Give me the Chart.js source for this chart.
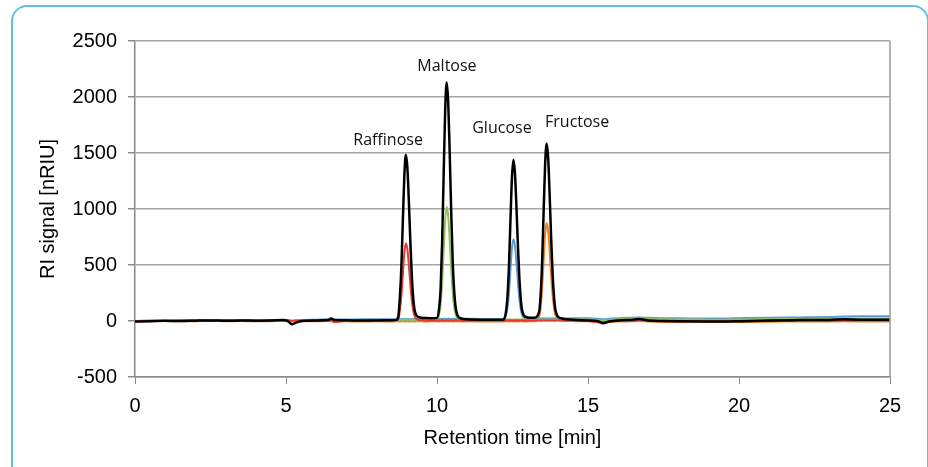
<!DOCTYPE html>
<html>
<head>
<meta charset="utf-8">
<script src="https://cdn.jsdelivr.net/npm/chart.js@4.4.1/dist/chart.umd.min.js"></script>
<style>
  body { margin: 0; background: #fff; }
  #wrap { position: relative; width: 928px; height: 467px; overflow: hidden; }
  #frame {
    position: absolute; left: 11px; top: 5px; width: 918px; height: 480px;
    border: 2px solid #62bfe2; border-radius: 16px; box-sizing: border-box;
    pointer-events: none;
  }
</style>
</head>
<body>
<div id="wrap">
  <canvas id="chromatogram" width="928" height="467"></canvas>
  <div id="frame"></div>
</div>
<script>
// retention times (min), shared by all traces
var times = [
  0, 0.5, 1, 1.5, 2, 2.5, 3, 3.5, 4, 4.5, 4.9, 5.05, 5.2, 5.35, 5.6, 6, 6.4, 6.5, 6.6, 7, 7.5, 8, 8.5, 8.65,
  8.72, 8.77, 8.82, 8.87, 8.92, 8.97, 9.02, 9.07, 9.12, 9.17, 9.24, 9.32, 9.45, 9.6, 9.8,
  10.0, 10.07, 10.12, 10.17, 10.22, 10.27, 10.32, 10.37, 10.42, 10.47, 10.52, 10.59, 10.67, 10.8, 11.0, 11.5,
  12.2, 12.28, 12.33, 12.38, 12.43, 12.48, 12.53, 12.58, 12.63, 12.68, 12.73, 12.8, 12.88, 13.0, 13.2,
  13.38, 13.43, 13.48, 13.53, 13.58, 13.63, 13.68, 13.73, 13.78, 13.83, 13.9, 13.98, 14.1, 14.3, 14.6,
  15, 15.3, 15.5, 15.7, 16, 16.5, 16.7, 17, 17.5, 18, 19, 19.5, 20, 21, 22, 23, 23.5, 24, 25
];

// mixture (black)
var mix = [
  -5, -2, 2, 0, 3, 5, 2, 4, 3, 5, 8, 2, -30, -12, 2, 5, 8, 22, 8, 6, 5, 5, 6, 10,
  45, 210, 480, 905, 1305, 1485, 1365, 1055, 690, 380, 130, 50, 32, 26, 25,
  28, 115, 290, 700, 1300, 1875, 2130, 1960, 1510, 980, 535, 190, 55, 22, 15, 12,
  12, 75, 205, 470, 880, 1270, 1440, 1325, 1025, 670, 370, 125, 50, 32, 28,
  80, 225, 520, 970, 1395, 1585, 1460, 1130, 740, 410, 140, 50, 25, 15, 10,
  5, 0, -18, -5, 5, 12, 18, 5, 0, -3, -5, -5, -2, 5, 8, 10, 15, 12, 12
];

var raffinose = [
  0, 2, 0, 3, 5, 2, 5, 3, 2, 5, 6, 5, 2, 5, 3, 5, 4, 6, -8, 2, 3, 5, 4, 6,
  18, 95, 225, 425, 612, 695, 640, 495, 320, 175, 60, 18, 8, 5, 5,
  5, 4, 5, 6, 5, 4, 5, 6, 5, 4, 5, 6, 5, 4, 3, 5,
  5, 4, 5, 6, 5, 4, 5, 6, 5, 4, 5, 6, 5, 4, 5,
  5, 4, 5, 6, 5, 4, 5, 6, 5, 4, 5, 6, 5, 4, 5,
  0, -10, -22, -5, 5, 5, 8, 2, 0, -3, -5, -5, -3, 0, 3, 5, 5, 6, 5
];

var maltose = [
  0, 3, 2, 4, 3, 5, 4, 6, 5, 6, 8, 5, 0, 3, 6, 8, 10, 18, 10, 8, 8, 9, 10, 10,
  10, 10, 11, 10, 12, 10, 11, 12, 10, 11, 12, 10, 11, 12, 14,
  15, 55, 145, 335, 625, 900, 1020, 940, 725, 470, 260, 90, 30, 18, 14, 12,
  12, 12, 13, 12, 14, 12, 13, 12, 14, 13, 12, 14, 13, 12, 14,
  12, 13, 14, 12, 13, 14, 12, 13, 14, 12, 13, 14, 12, 13, 14,
  14, 10, 5, 10, 15, 25, 28, 18, 15, 14, 12, 12, 14, 16, 18, 20, 22, 22, 22
];

var glucose = [
  0, 2, 3, 4, 5, 6, 5, 7, 6, 8, 10, 8, 0, 5, 10, 12, 14, 15, 14, 14, 15, 15, 16, 16,
  16, 17, 16, 18, 17, 16, 18, 17, 16, 18, 17, 18, 17, 18, 18,
  18, 18, 19, 18, 20, 19, 18, 20, 19, 18, 20, 19, 18, 20, 19, 18,
  18, 45, 110, 240, 450, 645, 730, 675, 525, 345, 190, 70, 30, 22, 22,
  22, 23, 22, 24, 23, 22, 24, 23, 22, 24, 23, 22, 24, 23, 24,
  24, 20, 15, 20, 25, 30, 32, 28, 25, 24, 22, 22, 25, 30, 32, 35, 40, 42, 42
];

var fructose = [
  0, -2, 0, -3, -2, 0, -2, -1, -3, -2, 0, -2, -5, -3, -2, -3, -1, -3, -5, -3, -4, -3, -4, -3,
  -3, -4, -3, -2, -4, -3, -2, -4, -3, -2, -4, -3, -2, -4, -3,
  -3, -4, -3, -2, -4, -3, -2, -4, -3, -2, -4, -3, -2, -4, -3, -4,
  -4, -3, -2, -4, -3, -2, -4, -3, -2, -4, -3, -2, -4, -3, -2,
  40, 120, 285, 535, 770, 875, 805, 625, 410, 225, 75, 25, 8, 2, -2,
  -3, -8, -12, -8, -5, -3, 0, -5, -8, -10, -10, -10, -8, -6, -5, -4, -3, -4, -4
];

// peak labels, placed in data units
var peakNames = ['Raffinose', 'Maltose', 'Glucose', 'Fructose'];
var labelTimes = [8.38, 10.33, 12.15, 14.64];
var labelLevels = [1616, 2277, 1723, 1777];

var yTicks = [-500, 0, 500, 1000, 1500, 2000, 2500];
var xTicks = [0, 5, 10, 15, 20, 25];

function pts(vals) {
  return times.map(function (t, i) { return { x: t, y: vals[i] }; });
}

function trace(vals, color, width) {
  return {
    data: pts(vals),
    borderColor: color,
    borderWidth: width,
    pointRadius: 0,
    cubicInterpolationMode: 'monotone',
    fill: false
  };
}

var peakLabels = {
  id: 'peakLabels',
  afterDatasetsDraw: function (chart) {
    var ctx = chart.ctx, xs = chart.scales.x, ys = chart.scales.y;
    ctx.save();
    ctx.font = '16px "Open Sans"';
    ctx.fillStyle = '#111';
    ctx.textAlign = 'center';
    ctx.textBaseline = 'middle';
    peakNames.forEach(function (name, i) {
      ctx.fillText(name, xs.getPixelForValue(labelTimes[i]), ys.getPixelForValue(labelLevels[i]));
    });
    // right edge of plot area
    var a = chart.chartArea;
    ctx.strokeStyle = '#9a9a9a';
    ctx.lineWidth = 1.5;
    ctx.beginPath();
    ctx.moveTo(a.right, a.top);
    ctx.lineTo(a.right, a.bottom);
    ctx.stroke();
    ctx.restore();
  }
};

var axisFont = { family: 'Liberation Sans', size: 20 };

new Chart(document.getElementById('chromatogram'), {
  type: 'line',
  data: {
    datasets: [
      trace(mix, '#000000', 2.5),
      trace(raffinose, '#e8392a', 2),
      trace(maltose, '#92c05a', 2),
      trace(glucose, '#5b9bd5', 2),
      trace(fructose, '#f07f22', 2)
    ]
  },
  options: {
    responsive: false,
    animation: false,
    layout: { padding: { left: 0, top: 41, right: 38, bottom: 0 } },
    plugins: { legend: { display: false }, tooltip: { enabled: false } },
    scales: {
      x: {
        type: 'linear',
        min: 0, max: 25,
        afterBuildTicks: function (s) { s.ticks = xTicks.map(function (v) { return { value: v }; }); },
        afterFit: function (s) { s.height = 90; },
        grid: { drawOnChartArea: false, drawTicks: true, tickLength: 7, color: '#8a8a8a' },
        border: { color: '#8a8a8a', width: 1.5 },
        ticks: {
          color: '#000', font: axisFont, padding: 10, maxRotation: 0,
          callback: function (v) { return String(v); }
        },
        title: {
          display: true, text: 'Retention time [min]', color: '#000',
          font: axisFont, padding: { top: 4, bottom: 17 }
        }
      },
      y: {
        min: -500, max: 2500,
        afterBuildTicks: function (s) { s.ticks = yTicks.map(function (v) { return { value: v }; }); },
        afterFit: function (s) { s.width = 135; },
        grid: { color: '#a8a8a8', lineWidth: 1.5, tickLength: 7, tickColor: '#8a8a8a' },
        border: { color: '#8a8a8a', width: 1.5 },
        ticks: {
          color: '#000', font: axisFont, padding: 11,
          callback: function (v) { return String(v); }
        },
        title: {
          display: true, text: 'RI signal [nRIU]', color: '#000',
          font: axisFont, padding: { top: 36, bottom: 0 }
        }
      }
    }
  },
  plugins: [peakLabels]
});
</script>
</body>
</html>
